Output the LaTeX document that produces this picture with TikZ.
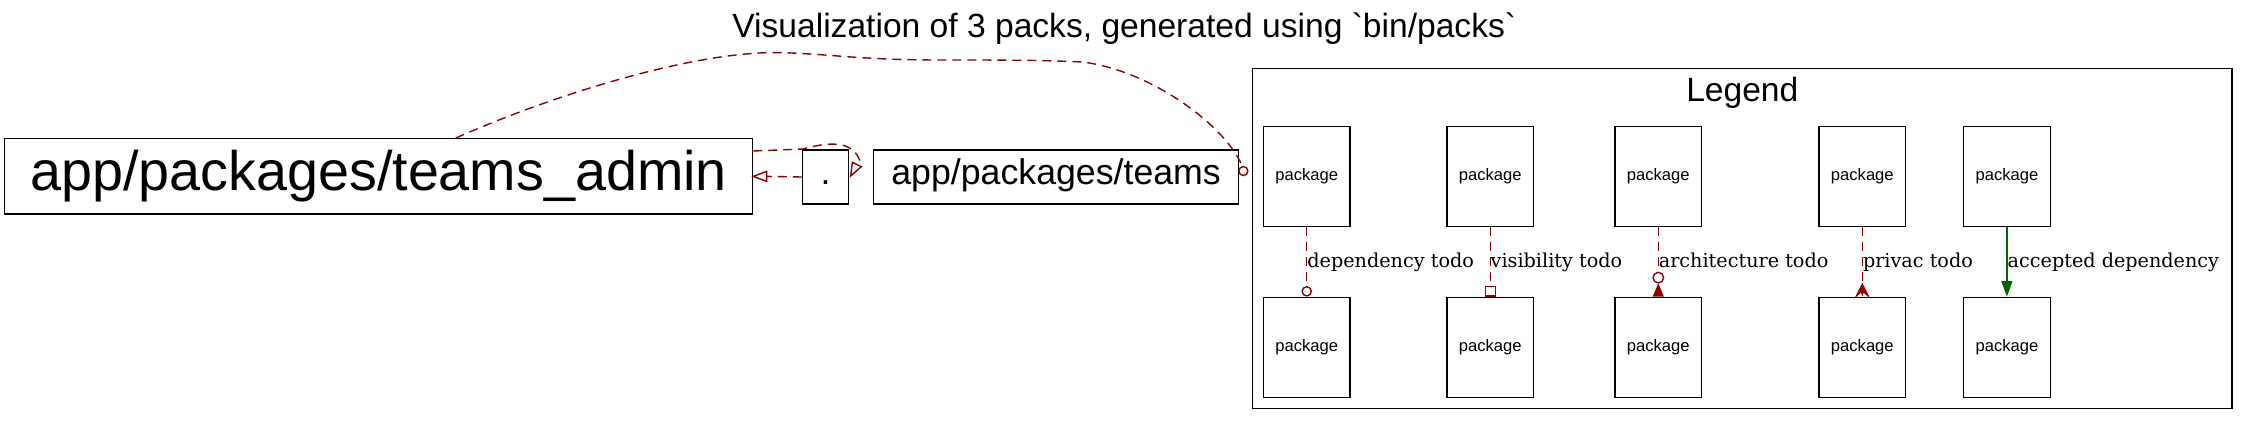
\documentclass[tikz,border=0pt]{standalone}
\usepackage{fontspec}
\setmainfont{Liberation Sans}
\newfontfamily\lblfont{DejaVu Serif}
\usetikzlibrary{arrows.meta}
\definecolor{depred}{RGB}{139,0,0}
\definecolor{okgreen}{RGB}{0,100,0}
\begin{document}
\begin{tikzpicture}[x=1pt,y=-1pt,
  pkg/.style={draw=black, line width=1.3pt, inner sep=0pt, fill=white},
  bigpkg/.style={pkg, minimum height=54pt, font=\fontsize{35.7}{40}\selectfont, text height=26.8pt, text depth=10.8pt},
  legpkg/.style={pkg, minimum width=86.7pt, minimum height=100pt, font=\fontsize{16.6}{20}\selectfont, text height=12.5pt, text depth=4.5pt},
  todo/.style={draw=depred, line width=1.4pt, dash pattern=on 9pt off 6pt},
  okdep/.style={draw=okgreen, line width=1.4pt},
  tiphead/.style={draw=depred, line width=1.4pt, solid},
  lbl/.style={anchor=base west, inner sep=0pt, font=\lblfont\fontsize{19.2}{23}\selectfont},
  titletext/.style={anchor=base, inner sep=0pt, font=\fontsize{33.6}{40}\selectfont},
]
\useasboundingbox (0,0) rectangle (2249,425);

% title
\node[titletext] (title) at (1124.3,37.7) {Visualization of 3 packs, generated using \textasciigrave bin/packs\textasciigrave};

% packs
\node[pkg, minimum width=748pt, minimum height=75.3pt, font=\fontsize{55.7}{60}\selectfont, text height=41.8pt, text depth=14.6pt] (admin) at (378.6,176.4) {app/packages/teams\_admin};
\node[bigpkg, minimum width=46pt] (dot) at (825.5,177) {.};
\node[bigpkg, minimum width=365.4pt] (teams) at (1056.1,177) {app/packages/teams};

% edges between packs
\draw[todo] ([xshift=77pt]admin.north) .. controls (560,92) and (700,50) .. (782.7,52.7)
  .. controls (830,54) and (860,60) .. (940,60)
  .. controls (1000,60) and (1040,60) .. (1082,62)
  .. controls (1150,70) and (1225,125) .. ([xshift=2.7pt,yshift=-16.5pt]teams.north east);
\draw[tiphead] ([xshift=3.9pt,yshift=-21.7pt]teams.north east) circle[radius=4.5pt];

\draw[todo] ([yshift=25.4pt]admin.east) -- (803,149) .. controls (835,140) and (857,142) .. ([xshift=12.2pt,yshift=10.3pt]dot.east);
\draw[tiphead, fill=white] ([xshift=12.2pt,yshift=10.3pt]dot.east) -- ([xshift=3.2pt,yshift=14.7pt]dot.east) -- ([xshift=1.5pt,yshift=1pt]dot.east) -- cycle;

\draw[todo] (dot.west) -- ([xshift=13.4pt]admin.east);
\draw[tiphead, fill=white] (admin.east) -- ([xshift=13.4pt,yshift=5pt]admin.east) -- ([xshift=13.4pt,yshift=-5pt]admin.east) -- cycle;

% legend
\node[draw=black, line width=1.3pt, inner sep=0pt, minimum width=979.3pt, minimum height=340pt] (legend) at (1742.35,238.3) {};
\node[titletext] (legtitle) at (1742.3,101.7) {Legend};

\node[legpkg] (p1) at (1306.7,176.7) {package};
\node[legpkg] (q1) at (1306.7,347.3) {package};
\node[legpkg] (p2) at (1490.2,176.7) {package};
\node[legpkg] (q2) at (1490.2,347.3) {package};
\node[legpkg] (p3) at (1658.3,176.7) {package};
\node[legpkg] (q3) at (1658.3,347.3) {package};
\node[legpkg] (p4) at (1862.3,176.7) {package};
\node[legpkg] (q4) at (1862.3,347.3) {package};
\node[legpkg] (p5) at (2006.9,176.7) {package};
\node[legpkg] (q5) at (2006.9,347.3) {package};

% dependency todo
\draw[todo, -{Circle[open, length=10.6pt, width=10.6pt]}] (p1.south) -- (q1.north);
% visibility todo
\draw[todo, -{Square[open, length=11pt, width=11.4pt]}] (p2.south) -- (q2.north);
% architecture todo
\draw[todo] (p3.south) -- ([yshift=24.3pt]q3.north);
\draw[tiphead] ([yshift=19pt]q3.north) circle[radius=5.3pt];
\fill[depred] ([yshift=13.3pt]q3.north) -- ([xshift=-5.65pt]q3.north) -- ([xshift=5.65pt]q3.north) -- cycle;
% privac todo
\draw[todo] (p4.south) -- ([yshift=14pt]q4.north);
\fill[depred] ([yshift=14pt]q4.north) -- ([xshift=8pt,yshift=-2pt]q4.north) -- ([xshift=1.2pt,yshift=4pt]q4.north) -- (q4.north) -- ([xshift=-1.2pt,yshift=4pt]q4.north) -- ([xshift=-8pt,yshift=-2pt]q4.north) -- cycle;
% accepted dependency
\draw[okdep, -{Triangle[length=15.6pt, width=11pt]}] (p5.south) -- (q5.north);

\node[lbl] (l1) at ([xshift=0.5pt,yshift=-40.6pt]p1.south) {dependency todo};
\node[lbl] (l2) at ([xshift=0.3pt,yshift=-40.6pt]p2.south) {visibility todo};
\node[lbl] (l3) at ([xshift=0.3pt,yshift=-40.6pt]p3.south) {architecture todo};
\node[lbl] (l4) at ([xshift=0.5pt,yshift=-40.6pt]p4.south) {privac todo};
\node[lbl] (l5) at ([xshift=0.6pt,yshift=-40.6pt]p5.south) {accepted dependency};
\end{tikzpicture}
\end{document}
